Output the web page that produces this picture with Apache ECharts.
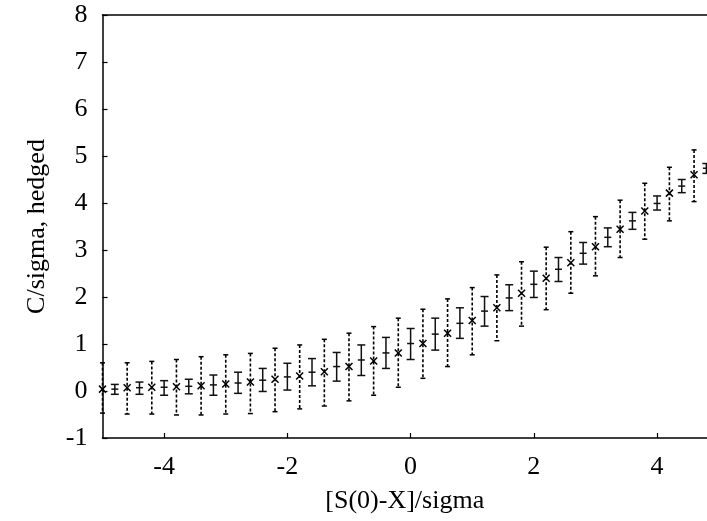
<!DOCTYPE html>
<html>
<head>
<meta charset="utf-8">
<script src="https://cdn.jsdelivr.net/npm/echarts@6/dist/echarts.min.js"></script>
<style>
  html, body { margin: 0; padding: 0; background: #fff; }
  #chart { width: 707px; height: 521px; }
</style>
</head>
<body>
<div id="chart"></div>
<script>
// Unhedged estimate: dashed error bars with an "x" at the mean
const dashX    = [-5.0, -4.6, -4.2, -3.8, -3.4, -3.0, -2.6, -2.2, -1.8, -1.4, -1.0, -0.6, -0.2, 0.2, 0.6, 1.0, 1.4, 1.8, 2.2, 2.6, 3.0, 3.4, 3.8, 4.2, 4.6];
const dashMid  = [0.04, 0.07, 0.08, 0.09, 0.11, 0.15, 0.19, 0.25, 0.32, 0.41, 0.52, 0.64, 0.81, 1.01, 1.23, 1.50, 1.77, 2.08, 2.40, 2.73, 3.07, 3.44, 3.83, 4.21, 4.60];
const dashHigh = [0.60, 0.60, 0.63, 0.67, 0.73, 0.77, 0.80, 0.91, 0.98, 1.10, 1.23, 1.37, 1.55, 1.74, 1.96, 2.20, 2.47, 2.75, 3.06, 3.39, 3.71, 4.06, 4.42, 4.76, 5.13];
const dashLow  = [-0.47, -0.49, -0.49, -0.51, -0.51, -0.49, -0.48, -0.44, -0.38, -0.32, -0.21, -0.09, 0.08, 0.27, 0.52, 0.77, 1.07, 1.38, 1.73, 2.08, 2.45, 2.84, 3.23, 3.62, 4.03];

// Hedged estimate: solid error bars with a crossbar at the mean
const solX    = [-4.8, -4.4, -4.0, -3.6, -3.2, -2.8, -2.4, -2.0, -1.6, -1.2, -0.8, -0.4, 0.0, 0.4, 0.8, 1.2, 1.6, 2.0, 2.4, 2.8, 3.2, 3.6, 4.0, 4.4, 4.8];
const solMid  = [0.04, 0.07, 0.08, 0.10, 0.13, 0.17, 0.23, 0.30, 0.40, 0.52, 0.66, 0.81, 1.01, 1.21, 1.44, 1.70, 1.98, 2.27, 2.59, 2.93, 3.27, 3.62, 3.99, 4.36, 4.74];
const solHigh = [0.14, 0.19, 0.22, 0.25, 0.34, 0.40, 0.48, 0.59, 0.69, 0.82, 0.98, 1.14, 1.33, 1.55, 1.77, 2.01, 2.26, 2.55, 2.84, 3.16, 3.47, 3.80, 4.15, 4.50, 4.84];
const solLow  = [-0.07, -0.07, -0.09, -0.06, -0.09, -0.05, -0.01, 0.02, 0.11, 0.21, 0.33, 0.48, 0.67, 0.87, 1.12, 1.38, 1.71, 1.99, 2.33, 2.70, 3.07, 3.44, 3.85, 4.22, 4.63];

const xTicks = [-4, -2, 0, 2, 4];
const xTitle = '[S(0)-X]/sigma';
const yTitle = 'C/sigma, hedged';

// visible x window (the plot runs off the right edge of the page)
const X_MIN = -5, X_MAX = 4.81;

const FONT = 'Liberation Serif';

function rows(xs, mid, low, high) {
  return xs.map((x, i) => [x, mid[i], low[i], high[i]]);
}

function line(x1, y1, x2, y2, style) {
  return { type: 'line', shape: { x1, y1, x2, y2 }, style };
}

function renderSolid(params, api) {
  const c = api.coord([api.value(0), api.value(1)]);
  const lo = api.coord([api.value(0), api.value(2)]);
  const hi = api.coord([api.value(0), api.value(3)]);
  const st = { stroke: '#111', lineWidth: 1.5 };
  const cap = 4, bar = 3.5;
  return {
    type: 'group',
    children: [
      line(c[0], lo[1], c[0], hi[1], st),
      line(c[0] - cap, lo[1], c[0] + cap, lo[1], st),
      line(c[0] - cap, hi[1], c[0] + cap, hi[1], st),
      line(c[0] - bar, c[1], c[0] + bar, c[1], st)
    ]
  };
}

function renderDashed(params, api) {
  const c = api.coord([api.value(0), api.value(1)]);
  const lo = api.coord([api.value(0), api.value(2)]);
  const hi = api.coord([api.value(0), api.value(3)]);
  const dash = { stroke: '#000', lineWidth: 1.6, lineDash: [3, 2] };
  const st = { stroke: '#000', lineWidth: 1.5 };
  const cap = 2.5, m = 3.5;
  return {
    type: 'group',
    children: [
      line(c[0], hi[1], c[0], lo[1], dash),
      line(c[0] - cap, lo[1], c[0] + cap, lo[1], st),
      line(c[0] - cap, hi[1], c[0] + cap, hi[1], st),
      line(c[0] - m, c[1] - m, c[0] + m, c[1] + m, st),
      line(c[0] - m, c[1] + m, c[0] + m, c[1] - m, st)
    ]
  };
}

const chart = echarts.init(document.getElementById('chart'), null, { renderer: 'canvas' });

chart.setOption({
  animation: false,
  backgroundColor: '#fff',
  grid: { left: 102.5, top: 15, right: 0, bottom: 83, show: false },
  xAxis: [
    {
      type: 'value', min: X_MIN, max: X_MAX,
      name: xTitle, nameLocation: 'middle', nameGap: 50,
      nameTextStyle: { fontFamily: FONT, fontSize: 26, color: '#000' },
      axisLine: { show: true, onZero: false, lineStyle: { color: '#000', width: 1.5 } },
      axisTick: { show: true, inside: true, length: 5, customValues: xTicks, lineStyle: { color: '#000', width: 1.2 } },
      axisLabel: { customValues: xTicks, margin: 16, fontFamily: FONT, fontSize: 26, color: '#000' },
      splitLine: { show: false }
    },
    {
      // top frame line
      type: 'value', position: 'top', min: X_MIN, max: X_MAX,
      axisLine: { show: true, onZero: false, lineStyle: { color: '#000', width: 1.5 } },
      axisTick: { show: false },
      axisLabel: { show: false },
      splitLine: { show: false }
    }
  ],
  yAxis: {
    type: 'value', min: -1, max: 8, interval: 1,
    name: yTitle, nameLocation: 'middle', nameGap: 52,
    nameTextStyle: { fontFamily: FONT, fontSize: 26, color: '#000' },
    axisLine: { show: true, onZero: false, lineStyle: { color: '#000', width: 1.5 } },
    axisTick: { show: true, inside: true, length: 5, lineStyle: { color: '#000', width: 1.2 } },
    axisLabel: { margin: 15, fontFamily: FONT, fontSize: 26, color: '#000' },
    splitLine: { show: false }
  },
  series: [
    {
      type: 'custom', name: 'unhedged',
      data: rows(dashX, dashMid, dashLow, dashHigh),
      encode: { x: 0, y: [1, 2, 3] },
      renderItem: renderDashed
    },
    {
      type: 'custom', name: 'hedged',
      data: rows(solX, solMid, solLow, solHigh),
      encode: { x: 0, y: [1, 2, 3] },
      renderItem: renderSolid
    }
  ]
});
</script>
</body>
</html>
